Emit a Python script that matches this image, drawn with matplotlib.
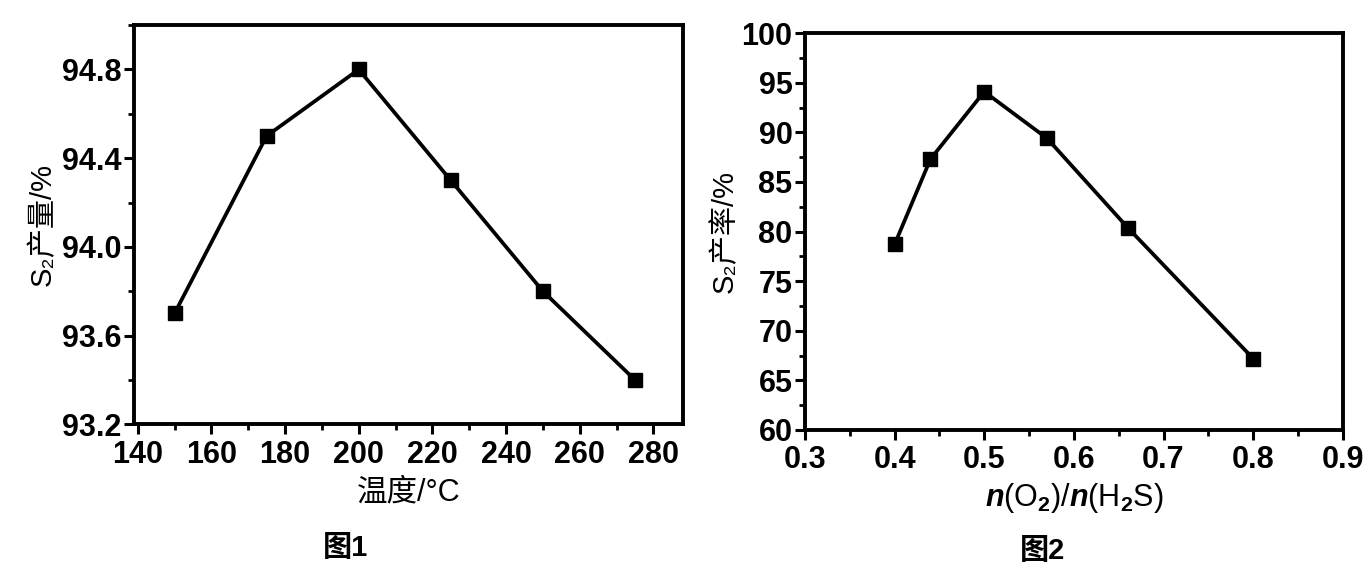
import matplotlib
matplotlib.use("Agg")
import matplotlib.pyplot as plt
from matplotlib.ticker import MultipleLocator

plt.rcParams['font.family'] = ['Liberation Sans', 'Noto Sans CJK SC', 'DejaVu Sans']
plt.rcParams['font.weight'] = 'bold'
plt.rcParams['mathtext.fontset'] = 'custom'
plt.rcParams['mathtext.rm'] = 'Liberation Sans:weight=bold'
plt.rcParams['mathtext.it'] = 'Liberation Sans:weight=bold:slant=italic'
plt.rcParams['mathtext.bf'] = 'Liberation Sans:weight=bold'

# fig 1: temperature vs S2 yield
temp = [150, 175, 200, 225, 250, 275]
yield_temp = [93.7, 94.5, 94.8, 94.3, 93.8, 93.4]
temp_ticks = [140, 160, 180, 200, 220, 240, 260, 280]
yield1_ticks = [93.2, 93.6, 94.0, 94.4, 94.8]

# fig 2: n(O2)/n(H2S) vs S2 yield
ratio = [0.40, 0.44, 0.50, 0.57, 0.66, 0.80]
yield_ratio = [78.7, 87.3, 94.1, 89.4, 80.4, 67.2]
ratio_ticks = [0.3, 0.4, 0.5, 0.6, 0.7, 0.8, 0.9]
yield2_ticks = [60, 65, 70, 75, 80, 85, 90, 95, 100]

fig = plt.figure(figsize=(13.72, 5.71), dpi=100)
ax1 = fig.add_axes([0.0977, 0.257, 0.400, 0.699])
ax2 = fig.add_axes([0.5867, 0.247, 0.392, 0.695])

for ax in (ax1, ax2):
    for s in ax.spines.values():
        s.set_linewidth(2.8)
    ax.tick_params(which='major', direction='out', length=7, width=2.2, labelsize=22, pad=2)
    ax.tick_params(which='minor', direction='out', length=4, width=2.0)
    ax.tick_params(axis='x', which='major', pad=4)

ax1.plot(temp, yield_temp, color='black', lw=2.7, marker='s', ms=10)
ax1.set_xlim(139, 288)
ax1.set_ylim(93.2, 95.0)
ax1.set_xticks(temp_ticks)
ax1.set_yticks(yield1_ticks)
ax1.set_yticklabels(['%.1f' % v for v in yield1_ticks])
ax1.xaxis.set_minor_locator(MultipleLocator(10))
ax1.yaxis.set_minor_locator(MultipleLocator(0.2))
ax1.set_xlabel('温度/°C', fontsize=22, labelpad=6)
ax1.set_ylabel('S₂产量/%', fontsize=21, labelpad=4)

ax2.plot(ratio, yield_ratio, color='black', lw=2.7, marker='s', ms=10)
ax2.set_xlim(0.3, 0.9)
ax2.set_ylim(60, 100)
ax2.set_xticks(ratio_ticks)
ax2.set_yticks(yield2_ticks)
ax2.xaxis.set_minor_locator(MultipleLocator(0.05))
ax2.yaxis.set_minor_locator(MultipleLocator(2.5))
ax2.set_xlabel('$n$(O$_2$)/$n$(H$_2$S)', fontsize=22, labelpad=4)
ax2.set_ylabel('S₂产率/%', fontsize=21, labelpad=2)

fig.text(0.252, 0.04, '图1', fontsize=21, ha='center', va='center')
fig.text(0.760, 0.035, '图2', fontsize=21, ha='center', va='center')

fig.savefig('out.png', dpi=100)
